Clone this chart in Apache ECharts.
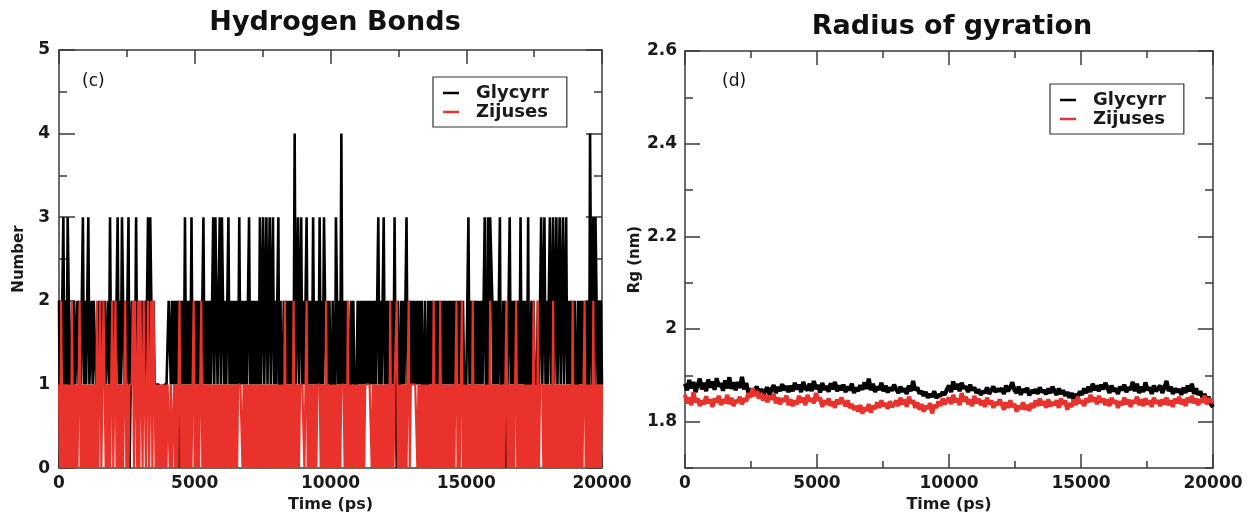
<!DOCTYPE html>
<html>
<head>
<meta charset="utf-8">
<script src="https://cdn.jsdelivr.net/npm/echarts@6/dist/echarts.min.js"></script>
<style>
html,body{margin:0;padding:0;background:#fff;}
#chart{width:1248px;height:518px;}
</style>
</head>
<body>
<div id="chart"></div>
<script>
// ---------- data ----------
const TIME_MAX = 20000;
const timeTicks = [0, 5000, 10000, 15000, 20000];
const hbYTicks = [0, 1, 2, 3, 4, 5];
const rgYTicks = [1.8, 2, 2.2, 2.4, 2.6];
const rgYMinorTicks = [1.7, 1.9, 2.1, 2.3, 2.5];
const seriesNames = ['Glycyrr', 'Zijuses'];

// Hydrogen bonds (count), sampled every 40 ps from 0 to 20000 ps
const hbGlycyrr = [
2,0,1,2,3,1,2,1,3,2,0,1,2,1,2,1,1,2,1,2,1,2,3,1,2,
1,2,3,1,1,2,1,2,2,1,0,1,2,1,1,2,1,2,1,1,2,1,3,1,2,
1,2,1,2,3,1,2,1,3,3,1,2,1,2,3,0,1,2,1,2,1,3,1,2,1,
2,1,2,1,2,1,2,3,1,3,2,1,2,1,1,1,1,1,1,0,1,0,1,1,1,
1,2,2,1,2,1,2,1,2,1,2,0,2,1,2,1,3,1,2,1,2,1,3,1,2,
1,2,1,2,1,2,1,2,3,1,2,1,2,1,2,1,2,3,1,3,2,1,2,3,1,
3,2,1,2,1,2,3,1,2,1,2,1,2,1,2,1,3,1,2,1,2,1,2,1,2,
3,1,2,1,2,1,2,1,2,1,3,1,2,3,1,2,3,1,2,3,1,2,3,1,2,
1,2,3,0,2,0,1,2,1,2,1,2,1,2,1,2,1,4,1,2,3,1,2,3,1,
2,1,2,3,1,2,1,2,1,3,1,2,1,2,1,3,1,2,1,3,2,1,2,1,2,
1,0,2,1,0,3,2,1,2,1,4,1,2,1,2,1,2,1,0,2,1,2,1,0,1,
2,1,2,1,2,1,2,1,2,1,2,1,2,1,2,1,2,1,2,3,1,2,1,2,3,
1,2,1,2,1,2,1,2,1,3,1,0,2,0,1,2,1,2,1,2,3,1,2,1,2,
1,2,1,2,1,2,1,2,1,2,0,1,2,1,0,2,1,2,1,2,1,2,1,2,1,
2,1,2,1,2,1,2,1,2,1,2,1,2,1,2,1,2,1,2,1,2,1,2,1,0,
1,2,3,1,2,1,2,1,2,1,2,1,2,1,2,1,2,3,1,0,3,1,3,3,2,
1,2,1,2,1,2,3,0,1,2,1,2,0,1,2,3,1,2,1,2,1,2,1,2,1,
3,1,2,1,2,0,1,3,0,1,2,1,2,1,0,1,2,1,2,3,1,2,3,1,2,
1,2,3,1,2,3,1,2,3,1,2,3,1,2,3,1,2,3,1,2,1,2,1,2,1,
2,1,0,2,1,2,1,2,1,2,1,2,1,0,4,2,1,3,1,3,2,1,2,1,2,
1];
const hbZijuses = [
1,0,2,0,1,0,1,0,1,0,1,0,2,0,1,0,1,0,1,2,0,1,0,1,0,
1,0,1,0,1,0,1,0,1,0,2,0,1,2,0,1,2,2,0,1,0,1,0,1,2,
0,1,2,0,1,0,1,0,1,0,1,2,0,1,0,1,1,1,2,0,2,1,0,2,0,
2,2,0,2,1,0,1,2,0,1,2,0,2,2,0,1,0,1,0,1,0,1,0,1,0,
1,1,0,1,0,0,1,0,1,0,1,2,0,1,0,1,0,1,0,1,0,1,0,1,2,
0,1,0,1,0,1,2,0,1,0,1,0,1,0,1,0,1,0,1,0,1,0,1,0,1,
0,1,0,1,0,1,0,1,0,1,0,1,0,1,0,1,1,1,1,0,1,0,1,0,1,
0,1,0,1,0,1,0,1,0,1,0,1,0,1,0,1,0,1,0,1,0,1,0,1,0,
1,0,1,0,1,0,1,0,2,0,1,0,1,0,1,0,2,0,1,0,1,0,1,1,1,
1,0,1,2,0,1,0,1,0,1,0,1,0,1,1,1,0,1,0,1,0,2,0,1,0,
1,0,1,0,1,0,1,0,1,0,1,1,1,0,1,0,2,0,1,0,1,0,1,0,1,
0,1,0,1,0,1,0,1,1,1,1,1,1,0,1,0,1,0,1,0,1,0,1,0,1,
0,1,0,1,0,2,0,1,0,1,1,2,0,1,0,1,0,1,0,1,0,1,2,0,1,
1,1,1,1,1,0,1,0,1,0,1,0,1,0,1,0,1,0,1,0,2,0,1,0,1,
0,2,0,1,0,1,0,1,0,1,0,1,0,1,0,1,2,0,1,0,1,2,0,1,0,
1,0,1,0,1,0,2,0,1,0,1,0,1,0,1,0,1,0,1,0,1,0,2,0,1,
0,1,0,1,0,1,0,1,0,1,0,1,2,0,1,0,1,0,1,0,1,2,0,1,0,
1,0,1,0,1,0,1,0,1,0,1,0,2,0,1,0,2,0,1,1,1,0,1,0,1,
0,1,0,1,0,2,0,1,0,1,0,1,0,1,0,1,0,1,0,1,0,1,0,2,0,
1,0,1,0,1,0,1,0,1,2,0,1,0,1,0,1,0,2,0,1,0,1,0,1,0,
1];

// Radius of gyration (nm), sampled every 80 ps from 0 to 20000 ps
const rgGlycyrr = [
1.882,1.868,1.890,1.872,1.886,1.864,1.879,1.893,1.870,1.884,1.866,1.891,1.874,1.887,1.869,1.894,1.876,1.883,1.867,1.889,1.872,1.896,1.871,1.885,1.868,
1.886,1.873,1.897,1.870,1.884,1.862,1.872,1.858,1.869,1.876,1.860,1.871,1.856,1.868,1.874,1.859,1.870,1.879,1.862,1.875,1.866,1.881,1.868,1.877,1.864,
1.878,1.866,1.884,1.870,1.880,1.864,1.886,1.872,1.868,1.882,1.866,1.888,1.871,1.879,1.863,1.884,1.869,1.877,1.865,1.883,1.870,1.886,1.866,1.878,1.868,
1.880,1.864,1.876,1.868,1.882,1.862,1.874,1.866,1.879,1.869,1.885,1.871,1.893,1.868,1.882,1.864,1.876,1.869,1.884,1.866,1.878,1.863,1.874,1.867,1.880,
1.870,1.862,1.876,1.865,1.872,1.860,1.878,1.866,1.888,1.868,1.874,1.861,1.866,1.856,1.864,1.852,1.860,1.854,1.866,1.851,1.858,1.856,1.864,1.858,1.870,
1.878,1.864,1.887,1.870,1.882,1.866,1.884,1.872,1.876,1.864,1.880,1.868,1.874,1.862,1.870,1.858,1.866,1.862,1.874,1.860,1.868,1.876,1.864,1.871,1.866,
1.872,1.860,1.878,1.866,1.874,1.885,1.868,1.862,1.876,1.858,1.870,1.864,1.873,1.857,1.868,1.862,1.870,1.860,1.874,1.864,1.868,1.859,1.872,1.862,1.876,
1.866,1.858,1.872,1.860,1.868,1.856,1.864,1.852,1.862,1.848,1.860,1.854,1.866,1.858,1.872,1.862,1.876,1.864,1.882,1.868,1.878,1.866,1.880,1.870,1.884,
1.874,1.862,1.878,1.866,1.872,1.860,1.876,1.868,1.880,1.864,1.874,1.869,1.886,1.866,1.882,1.862,1.876,1.864,1.885,1.868,1.874,1.860,1.878,1.866,1.872,
1.878,1.862,1.874,1.888,1.866,1.876,1.860,1.872,1.864,1.870,1.858,1.874,1.862,1.878,1.866,1.882,1.860,1.872,1.858,1.866,1.852,1.860,1.846,1.854,1.838,
1.832];
const rgZijuses = [
1.858,1.840,1.852,1.836,1.864,1.842,1.850,1.834,1.846,1.838,1.855,1.840,1.848,1.832,1.850,1.842,1.856,1.836,1.848,1.840,1.858,1.838,1.852,1.834,1.846,
1.842,1.854,1.838,1.850,1.844,1.862,1.852,1.872,1.856,1.866,1.850,1.862,1.846,1.858,1.842,1.856,1.848,1.860,1.840,1.852,1.838,1.850,1.844,1.856,1.836,
1.848,1.834,1.846,1.838,1.856,1.842,1.852,1.836,1.858,1.844,1.850,1.840,1.862,1.846,1.852,1.832,1.846,1.838,1.850,1.834,1.844,1.830,1.848,1.838,1.852,
1.842,1.834,1.846,1.830,1.838,1.826,1.834,1.822,1.836,1.818,1.830,1.824,1.838,1.820,1.834,1.828,1.842,1.830,1.846,1.834,1.840,1.828,1.844,1.832,1.838,
1.846,1.834,1.852,1.838,1.848,1.832,1.854,1.840,1.846,1.830,1.842,1.826,1.838,1.822,1.834,1.828,1.840,1.818,1.836,1.830,1.844,1.834,1.850,1.838,1.846,
1.852,1.838,1.858,1.842,1.850,1.836,1.862,1.844,1.854,1.838,1.848,1.834,1.856,1.840,1.850,1.836,1.846,1.832,1.852,1.838,1.846,1.830,1.842,1.836,1.848,
1.838,1.826,1.842,1.830,1.846,1.832,1.838,1.822,1.834,1.828,1.842,1.826,1.836,1.824,1.840,1.830,1.846,1.834,1.850,1.836,1.844,1.830,1.848,1.834,1.842,
1.836,1.846,1.830,1.850,1.838,1.846,1.826,1.840,1.832,1.848,1.836,1.854,1.840,1.846,1.834,1.850,1.842,1.858,1.844,1.852,1.838,1.856,1.842,1.850,1.836,
1.848,1.834,1.852,1.840,1.846,1.830,1.844,1.836,1.852,1.838,1.848,1.832,1.846,1.840,1.854,1.836,1.848,1.834,1.850,1.838,1.846,1.832,1.852,1.840,1.846,
1.834,1.848,1.838,1.852,1.836,1.846,1.832,1.850,1.840,1.854,1.838,1.848,1.834,1.852,1.842,1.856,1.840,1.850,1.836,1.848,1.842,1.856,1.838,1.850,1.844,
1.842];

// ---------- chart ----------
const FONT = 'DejaVu Sans';
const AXIS_COLOR = '#3a3a3a';
const BLACK = '#000000';
const RED = '#e8322b';

function toPairs(arr) {
  const step = TIME_MAX / (arr.length - 1);
  return arr.map((v, i) => [i * step, v]);
}

const lineStyle = { color: AXIS_COLOR, width: 1.5 };
const labelFont = { fontFamily: FONT, fontSize: 17, fontWeight: 'bold', color: '#1a1a1a' };
const nameFont = { fontFamily: FONT, fontSize: 16, fontWeight: 'bold', color: '#1a1a1a' };
const vNameFont = { fontFamily: FONT, fontSize: 15, fontWeight: 'bold', color: '#1a1a1a' };

function xAxisPair(gridIndex, nameGap, labelMargin) {
  const base = {
    type: 'value', gridIndex, min: 0, max: TIME_MAX, interval: timeTicks[1] - timeTicks[0],
    splitLine: { show: false },
    axisLine: { show: true, onZero: false, lineStyle },
    axisTick: { show: true, inside: true, length: 14, lineStyle },
    minorTick: { show: true, splitNumber: 2, length: 7, lineStyle },
  };
  return [
    Object.assign({}, base, {
      position: 'bottom',
      name: 'Time (ps)', nameLocation: 'middle', nameGap, nameTextStyle: nameFont,
      axisLabel: Object.assign({ show: true, margin: labelMargin, formatter: v => String(v) }, labelFont)
    }),
    Object.assign({}, base, { position: 'top', axisLabel: { show: false } })
  ];
}

const hbY = {
  type: 'value', gridIndex: 0, min: hbYTicks[0], max: hbYTicks[hbYTicks.length - 1], interval: 1,
  splitLine: { show: false },
  axisLine: { show: true, onZero: false, lineStyle },
  axisTick: { show: true, inside: true, length: 16, lineStyle },
  minorTick: { show: true, splitNumber: 2, length: 8, lineStyle },
};

function rgY(position, major, withLabel) {
  const ax = {
    type: 'value', gridIndex: 1, min: 1.7, max: 2.6, position,
    splitLine: { show: false },
    axisLine: { show: major, onZero: false, lineStyle },
    axisTick: { show: true, inside: true, length: major ? 15 : 8, lineStyle,
                customValues: major ? rgYTicks : rgYMinorTicks },
    minorTick: { show: false },
    axisLabel: { show: false }
  };
  if (withLabel) {
    ax.axisLabel = Object.assign({ show: true, margin: 8, customValues: rgYTicks,
      formatter: v => String(+v.toFixed(1)) }, labelFont);
    ax.name = 'Rg (nm)';
    ax.nameLocation = 'middle';
    ax.nameGap = 24;
    ax.nameTextStyle = vNameFont;
  }
  return ax;
}

const legendBase = {
  orient: 'vertical', icon: 'rect', itemWidth: 16, itemHeight: 2.5, itemGap: 1,
  padding: [7, 18, 6, 10], borderColor: '#333', borderWidth: 1.2, backgroundColor: '#fff',
  textStyle: { fontFamily: FONT, fontSize: 18, fontWeight: 'bold', color: '#1a1a1a', padding: [0, 0, 0, 12] },
  data: seriesNames, selectedMode: false
};

const option = {
  animation: false,
  backgroundColor: '#ffffff',
  grid: [
    { left: 59, right: 1248 - 602, top: 50, bottom: 518 - 479 },
    { left: 685, right: 1248 - 1213, top: 51, bottom: 518 - 473 }
  ],
  xAxis: [].concat(xAxisPair(0, 15, 7), xAxisPair(1, 22, 7)),
  yAxis: [
    Object.assign({}, hbY, {
      position: 'left', name: 'Number', nameLocation: 'middle', nameGap: 32, nameTextStyle: vNameFont,
      axisLabel: Object.assign({ show: true, margin: 9 }, labelFont)
    }),
    Object.assign({}, hbY, { position: 'right', axisLabel: { show: false } }),
    rgY('left', true, true),
    rgY('left', false, false),
    rgY('right', true, false),
    rgY('right', false, false)
  ],
  legend: [
    Object.assign({}, legendBase, { left: 433, top: 77 }),
    Object.assign({}, legendBase, { left: 1050, top: 84 })
  ],
  graphic: [
    { type: 'text', x: 335, y: 23, style: { text: 'Hydrogen Bonds', textAlign: 'center', textVerticalAlign: 'middle',
      font: 'bold 27px "DejaVu Sans"', fill: '#111' } },
    { type: 'text', x: 952, y: 27, style: { text: 'Radius of gyration', textAlign: 'center', textVerticalAlign: 'middle',
      font: 'bold 27px "DejaVu Sans"', fill: '#111' } },
    { type: 'text', x: 82, y: 82, style: { text: '(c)', textVerticalAlign: 'middle',
      font: '17px "DejaVu Sans"', fill: '#111' } },
    { type: 'text', x: 722, y: 82, style: { text: '(d)', textVerticalAlign: 'middle',
      font: '17px "DejaVu Sans"', fill: '#111' } }
  ],
  series: [
    { name: seriesNames[0], type: 'line', xAxisIndex: 0, yAxisIndex: 0, data: toPairs(hbGlycyrr),
      showSymbol: false, symbol: 'none', lineStyle: { color: BLACK, width: 2.6 }, itemStyle: { color: BLACK }, z: 2 },
    { name: seriesNames[1], type: 'line', xAxisIndex: 0, yAxisIndex: 0, data: toPairs(hbZijuses),
      showSymbol: false, symbol: 'none', lineStyle: { color: RED, width: 2.2 }, itemStyle: { color: RED }, z: 3 },
    { name: seriesNames[0], type: 'line', xAxisIndex: 2, yAxisIndex: 2, data: toPairs(rgGlycyrr),
      showSymbol: false, symbol: 'none', lineStyle: { color: BLACK, width: 4.2 }, itemStyle: { color: BLACK }, z: 2 },
    { name: seriesNames[1], type: 'line', xAxisIndex: 2, yAxisIndex: 2, data: toPairs(rgZijuses),
      showSymbol: false, symbol: 'none', lineStyle: { color: RED, width: 4.2 }, itemStyle: { color: RED }, z: 3 }
  ]
};

const chart = echarts.init(document.getElementById('chart'), null, { renderer: 'canvas' });
chart.setOption(option);
</script>
</body>
</html>
